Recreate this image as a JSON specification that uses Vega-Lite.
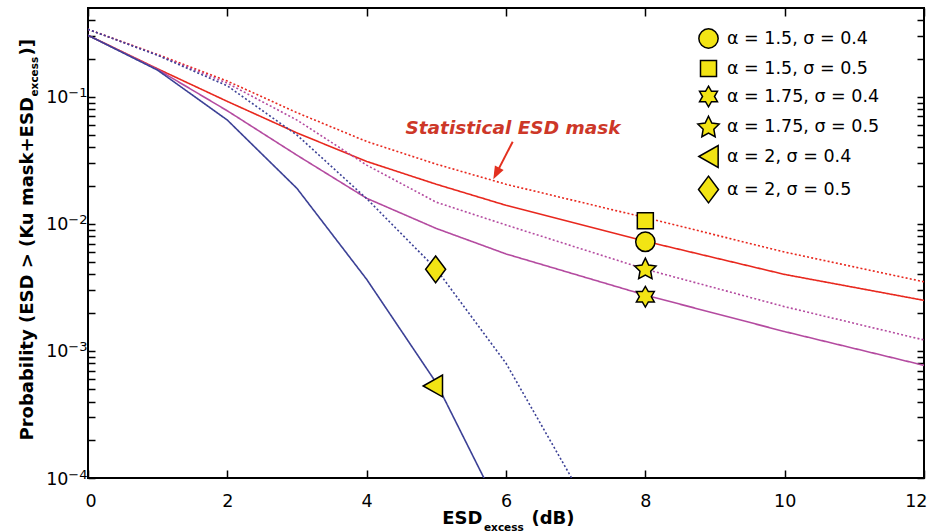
{
  "$schema": "https://vega.github.io/schema/vega-lite/v6.json",
  "width": 836,
  "height": 470,
  "autosize": "none",
  "padding": {"left": 88, "top": 8, "right": 3, "bottom": 54},
  "background": "white",
  "config": {
    "view": {"stroke": "black", "strokeWidth": 2},
    "axis": {"grid": false, "domain": false, "labelFlush": false, "labelOverlap": false, "tickColor": "black", "tickWidth": 1.5, "labelColor": "black", "titleColor": "black", "labelFont": "DejaVu Sans", "titleFont": "DejaVu Sans", "titleFontWeight": "bold"}
  },
  "resolve": {"axis": {"x": "independent", "y": "independent"}},
  "layer": [
    {
      "data": {"values": [
        {"a": "1.5", "s": "0.4", "x": 0, "p": 0.305},
        {"a": "1.5", "s": "0.4", "x": 1, "p": 0.166},
        {"a": "1.5", "s": "0.4", "x": 2, "p": 0.092},
        {"a": "1.5", "s": "0.4", "x": 3, "p": 0.052},
        {"a": "1.5", "s": "0.4", "x": 4, "p": 0.031},
        {"a": "1.5", "s": "0.4", "x": 5, "p": 0.0205},
        {"a": "1.5", "s": "0.4", "x": 6, "p": 0.014},
        {"a": "1.5", "s": "0.4", "x": 8, "p": 0.0073},
        {"a": "1.5", "s": "0.4", "x": 10, "p": 0.004},
        {"a": "1.5", "s": "0.4", "x": 12, "p": 0.0025},
        {"a": "1.5", "s": "0.5", "x": 0, "p": 0.34},
        {"a": "1.5", "s": "0.5", "x": 1, "p": 0.215},
        {"a": "1.5", "s": "0.5", "x": 2, "p": 0.133},
        {"a": "1.5", "s": "0.5", "x": 3, "p": 0.075},
        {"a": "1.5", "s": "0.5", "x": 4, "p": 0.0445},
        {"a": "1.5", "s": "0.5", "x": 5, "p": 0.0295},
        {"a": "1.5", "s": "0.5", "x": 6, "p": 0.0205},
        {"a": "1.5", "s": "0.5", "x": 8, "p": 0.0112},
        {"a": "1.5", "s": "0.5", "x": 10, "p": 0.006},
        {"a": "1.5", "s": "0.5", "x": 12, "p": 0.0035},
        {"a": "1.75", "s": "0.4", "x": 0, "p": 0.305},
        {"a": "1.75", "s": "0.4", "x": 1, "p": 0.164},
        {"a": "1.75", "s": "0.4", "x": 2, "p": 0.0776},
        {"a": "1.75", "s": "0.4", "x": 3, "p": 0.0347},
        {"a": "1.75", "s": "0.4", "x": 4, "p": 0.0159},
        {"a": "1.75", "s": "0.4", "x": 5, "p": 0.0092},
        {"a": "1.75", "s": "0.4", "x": 6, "p": 0.0058},
        {"a": "1.75", "s": "0.4", "x": 8, "p": 0.00275},
        {"a": "1.75", "s": "0.4", "x": 10, "p": 0.00142},
        {"a": "1.75", "s": "0.4", "x": 12, "p": 0.00077},
        {"a": "1.75", "s": "0.5", "x": 0, "p": 0.34},
        {"a": "1.75", "s": "0.5", "x": 1, "p": 0.213},
        {"a": "1.75", "s": "0.5", "x": 2, "p": 0.128},
        {"a": "1.75", "s": "0.5", "x": 3, "p": 0.0656},
        {"a": "1.75", "s": "0.5", "x": 4, "p": 0.029},
        {"a": "1.75", "s": "0.5", "x": 5, "p": 0.0148},
        {"a": "1.75", "s": "0.5", "x": 6, "p": 0.0098},
        {"a": "1.75", "s": "0.5", "x": 8, "p": 0.0044},
        {"a": "1.75", "s": "0.5", "x": 10, "p": 0.00223},
        {"a": "1.75", "s": "0.5", "x": 12, "p": 0.00122},
        {"a": "2", "s": "0.4", "x": 0, "p": 0.305},
        {"a": "2", "s": "0.4", "x": 1, "p": 0.162},
        {"a": "2", "s": "0.4", "x": 2, "p": 0.0656},
        {"a": "2", "s": "0.4", "x": 3, "p": 0.019},
        {"a": "2", "s": "0.4", "x": 4, "p": 0.00366},
        {"a": "2", "s": "0.4", "x": 5, "p": 0.00056},
        {"a": "2", "s": "0.4", "x": 6, "p": 0.000045},
        {"a": "2", "s": "0.5", "x": 0, "p": 0.34},
        {"a": "2", "s": "0.5", "x": 1, "p": 0.212},
        {"a": "2", "s": "0.5", "x": 2, "p": 0.122},
        {"a": "2", "s": "0.5", "x": 3, "p": 0.05},
        {"a": "2", "s": "0.5", "x": 4, "p": 0.0158},
        {"a": "2", "s": "0.5", "x": 5, "p": 0.0044},
        {"a": "2", "s": "0.5", "x": 6, "p": 0.0008},
        {"a": "2", "s": "0.5", "x": 7, "p": 0.000088}
      ]},
      "mark": {"type": "line", "strokeWidth": 1.6, "clip": true},
      "encoding": {
        "x": {"field": "x", "type": "quantitative", "scale": {"domain": [0, 12], "nice": false, "zero": false},
          "axis": {"orient": "bottom", "values": [0, 2, 4, 6, 8, 10, 12], "labels": false, "tickSize": -8,
            "title": "ESD", "titleFontSize": 18, "titleAngle": 0, "titleAlign": "left", "titleBaseline": "alphabetic", "titleX": 353.7, "titleY": 45.3}},
        "y": {"field": "p", "type": "quantitative", "scale": {"type": "log", "domain": [0.0001, 0.5], "nice": false},
          "axis": {"orient": "left", "values": [0.0001,0.0002,0.0003,0.0004,0.0005,0.0006,0.0007,0.0008,0.0009,0.001,0.002,0.003,0.004,0.005,0.006,0.007,0.008,0.009,0.01,0.02,0.03,0.04,0.05,0.06,0.07,0.08,0.09,0.1,0.2,0.3,0.4],
            "labels": false, "tickSize": -7,
            "title": "Probability (ESD > (Ku mask+ESD", "titleFontSize": 18, "titleAngle": 270, "titleAlign": "left", "titleBaseline": "alphabetic", "titleX": -56, "titleY": 432}},
        "color": {"field": "a", "type": "nominal", "scale": {"domain": ["1.5", "1.75", "2"], "range": ["#E8281E", "#B44BA0", "#3C4196"]}, "legend": null},
        "strokeDash": {"field": "s", "type": "nominal", "scale": {"domain": ["0.4", "0.5"], "range": [[1, 0], [2, 2.2]]}, "legend": null}
      }
    },
    {
      "data": {"values": [
        {"series": "α = 1.5, σ = 0.4", "x": 8, "p": 0.00723},
        {"series": "α = 1.5, σ = 0.5", "x": 8, "p": 0.01057},
        {"series": "α = 1.75, σ = 0.4", "x": 8, "p": 0.00267},
        {"series": "α = 1.75, σ = 0.5", "x": 8, "p": 0.00446},
        {"series": "α = 2, σ = 0.4", "x": 4.95, "p": 0.00053},
        {"series": "α = 2, σ = 0.5", "x": 4.99, "p": 0.00439}
      ]},
      "mark": {"type": "point", "filled": true, "fill": "#F2E414", "stroke": "black", "strokeWidth": 1.5, "size": 713, "opacity": 1},
      "encoding": {
        "x": {"field": "x", "type": "quantitative", "scale": {"domain": [0, 12], "nice": false, "zero": false},
          "axis": {"orient": "top", "values": [0, 2, 4, 6, 8, 10, 12], "labels": false, "tickSize": -8, "title": null}},
        "y": {"field": "p", "type": "quantitative", "scale": {"type": "log", "domain": [0.0001, 0.5], "nice": false},
          "axis": {"orient": "right", "values": [0.0001,0.0002,0.0003,0.0004,0.0005,0.0006,0.0007,0.0008,0.0009,0.001,0.002,0.003,0.004,0.005,0.006,0.007,0.008,0.009,0.01,0.02,0.03,0.04,0.05,0.06,0.07,0.08,0.09,0.1,0.2,0.3,0.4],
            "labels": false, "tickSize": -7, "title": null}},
        "shape": {"field": "series", "type": "nominal", "title": null,
          "scale": {"domain": ["α = 1.5, σ = 0.4", "α = 1.5, σ = 0.5", "α = 1.75, σ = 0.4", "α = 1.75, σ = 0.5", "α = 2, σ = 0.4", "α = 2, σ = 0.5"],
            "range": [
              "M-0.723,0A0.723,0.723 0 1,0 0.723,0A0.723,0.723 0 1,0 -0.723,0Z",
              "M-0.6,-0.6L0.6,-0.6L0.6,0.6L-0.6,0.6Z",
              "M0,-0.775L0.224,-0.388L0.671,-0.388L0.447,0L0.671,0.388L0.224,0.388L0,0.775L-0.224,0.388L-0.671,0.388L-0.447,0L-0.671,-0.388L-0.224,-0.388Z",
              "M0,-0.77L0.25,-0.26L0.8,-0.18L0.4,0.21L0.5,0.77L0,0.5L-0.5,0.77L-0.4,0.21L-0.8,-0.18L-0.25,-0.26Z",
              "M-0.723,0L0.723,-0.813L0.723,0.813Z",
              "M0,-1L0.75,0L0,1L-0.75,0Z"
            ]},
          "legend": {"orient": "none", "legendX": 606, "legendY": 16, "padding": 0, "labelFont": "DejaVu Sans", "labelFontSize": 17.5, "labelColor": "black", "labelOffset": 4, "rowPadding": 2, "symbolSize": 713,
            "encode": {"symbols": {"fill": {"value": "#F2E414"}, "stroke": {"value": "black"}, "strokeWidth": {"value": 1.5}, "opacity": {"value": 1}}}}
        }
      }
    },
    {
      "data": {"values": [{"x": 6.1, "p": 0.0568, "label": "Statistical ESD mask"}]},
      "mark": {"type": "text", "font": "DejaVu Sans", "fontSize": 18.5, "fontWeight": "bold", "fontStyle": "italic", "color": "#CD3728", "align": "center", "baseline": "middle"},
      "encoding": {
        "x": {"field": "x", "type": "quantitative", "scale": {"domain": [0, 12], "nice": false, "zero": false},
          "axis": {"orient": "bottom", "values": [0, 2, 4, 6, 8, 10, 12], "ticks": false, "labels": true, "labelFontSize": 17.5, "labelPadding": 14, "labelFlush": true, "labelFlushOffset": 3,
            "title": "excess", "titleFontSize": 10.5, "titleAngle": 0, "titleAlign": "left", "titleBaseline": "alphabetic", "titleX": 395.5, "titleY": 52}},
        "y": {"field": "p", "type": "quantitative", "scale": {"type": "log", "domain": [0.0001, 0.5], "nice": false},
          "axis": {"orient": "left", "values": [0.0001, 0.001, 0.01, 0.1], "ticks": false, "labelFontSize": 13, "labelPadding": 1, "labelBaseline": "middle", "labelOffset": -4,
            "labelExpr": "datum.value == 0.1 ? '−1' : datum.value == 0.01 ? '−2' : datum.value == 0.001 ? '−3' : '−4'",
            "title": "excess", "titleFontSize": 10.5, "titleAngle": 270, "titleAlign": "left", "titleBaseline": "alphabetic", "titleX": -51, "titleY": 88}},
        "text": {"field": "label", "type": "nominal"}
      }
    },
    {
      "data": {"values": [{"x": 6.096, "p": 0.04432, "x2": 5.864, "p2": 0.0251}]},
      "mark": {"type": "rule", "color": "#E3301F", "strokeWidth": 2},
      "encoding": {
        "x": {"field": "x", "type": "quantitative", "scale": {"domain": [0, 12], "nice": false, "zero": false},
          "axis": {"orient": "bottom", "values": [0, 2, 4, 6, 8, 10, 12], "ticks": false, "labels": false,
            "title": "(dB)", "titleFontSize": 18, "titleAngle": 0, "titleAlign": "left", "titleBaseline": "alphabetic", "titleX": 443, "titleY": 45.3}},
        "y": {"field": "p", "type": "quantitative", "scale": {"type": "log", "domain": [0.0001, 0.5], "nice": false},
          "axis": {"orient": "left", "values": [0.0001, 0.001, 0.01, 0.1], "ticks": false, "labelFontSize": 17.5, "labelPadding": 20, "labelBaseline": "middle", "labelOffset": 1,
            "labelExpr": "'10'",
            "title": ")]", "titleFontSize": 18, "titleAngle": 270, "titleAlign": "left", "titleBaseline": "alphabetic", "titleX": -56, "titleY": 47}},
        "x2": {"field": "x2"},
        "y2": {"field": "p2"}
      }
    },
    {
      "data": {"values": [{"x": 5.864, "p": 0.0251}]},
      "mark": {"type": "point", "shape": "M0,1L-0.7,-0.85L0.7,-0.85Z", "size": 196, "angle": 27.3, "filled": true, "fill": "#E3301F", "stroke": null, "opacity": 1},
      "encoding": {
        "x": {"field": "x", "type": "quantitative", "scale": {"domain": [0, 12], "nice": false, "zero": false}, "axis": null},
        "y": {"field": "p", "type": "quantitative", "scale": {"type": "log", "domain": [0.0001, 0.5], "nice": false}, "axis": null}
      }
    }
  ]
}
